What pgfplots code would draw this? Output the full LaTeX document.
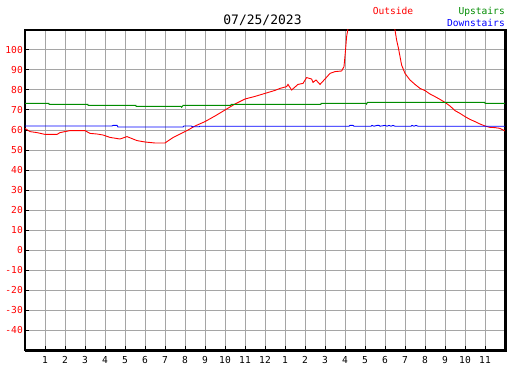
\documentclass[border=0pt]{standalone}
\usepackage{pgfplots}
\pgfplotsset{compat=1.18}
\usepackage{fontspec}
\setmainfont{DejaVu Sans Mono}
\definecolor{gridgray}{RGB}{165,165,165}
\definecolor{upgreen}{RGB}{0,140,0}
\begin{document}
\begin{tikzpicture}[x=1pt,y=1pt]
\useasboundingbox (0,0) rectangle (527,370);
\fill[white] (0,0) rectangle (527,370);
\node[font=\fontsize{13}{13}\selectfont, anchor=base] at (262.5,345) {07/25/2023};
\node[font=\fontsize{9.6}{10}\selectfont, text=red, anchor=base] at (393,355) {Outside};
\node[font=\fontsize{9.6}{10}\selectfont, text=upgreen, anchor=base east, inner sep=0pt] at (505,355) {Upstairs};
\node[font=\fontsize{9.6}{10}\selectfont, text=blue, anchor=base east, inner sep=0pt] at (505,343) {Downstairs};
\begin{axis}[
  at={(25pt,20pt)}, anchor=south west,
  scale only axis, width=480pt, height=320pt,
  xmin=0, xmax=24, ymin=-50, ymax=110,
  xtick={1,2,3,4,5,6,7,8,9,10,11,12,13,14,15,16,17,18,19,20,21,22,23},
  xticklabels={1,2,3,4,5,6,7,8,9,10,11,12,1,2,3,4,5,6,7,8,9,10,11},
  ytick={-40,-30,-20,-10,0,10,20,30,40,50,60,70,80,90,100},
  yticklabels={-40,-30,-20,-10,0,10,20,30,40,50,60,70,80,90,100},
  xtick pos=bottom, ytick pos=left,
  tick align=inside,
  major tick length=4pt,
  tick style={black, line width=1pt},
  grid=major,
  major grid style={gridgray, line width=1pt},
  axis line style={black, line width=1.2pt},
  tick label style={font=\fontsize{9.6}{10}\selectfont},
  yticklabel style={text=red, inner sep=2pt},
  xticklabel style={text=black, inner sep=2pt, yshift=-4pt},
  after end axis/.code={
    \draw[black, line width=2pt] ([xshift=1pt,yshift=0.6pt]current axis.north east) -- ([xshift=1pt,yshift=-1pt]current axis.south east) -- ([yshift=-1pt]current axis.south west);
  },
]
\addplot[red, line width=0.9pt] coordinates {
(0,60.8)(0.25,59.2)(0.6,58.7)(1.0,57.8)(1.6,57.8)(1.75,58.7)(2.25,59.7)(3.0,59.7)(3.25,58.3)(3.6,58)(3.9,57.5)(4.25,56.3)(4.75,55.5)(5.1,56.7)(5.6,54.7)(6.0,54)(6.5,53.5)(7.0,53.5)(7.1,54.2)(7.4,56.2)(7.75,58)(8.1,59.7)(8.5,62)(9.0,64.2)(9.5,67)(10.0,70)(10.5,73)(11.0,75.5)(11.5,76.8)(12.0,78.3)(12.5,79.8)(12.75,80.8)(13.08,81.7)(13.15,82.8)(13.33,80)(13.65,82.8)(13.9,83.3)(14.08,86.2)(14.33,85.5)(14.4,83.8)(14.55,85)(14.75,82.8)(15.0,85.5)(15.25,88.3)(15.5,89.2)(15.83,89.5)(15.95,91.7)(16.02,99.2)(16.08,106.7)(16.17,112)(16.4,125)(17.4,135)(18.35,122)(18.5,110)(18.58,105)(18.67,101)(18.83,92.5)(19.0,88.3)(19.25,85)(19.5,82.8)(19.75,80.8)(20.0,79.7)(20.25,78)(20.5,76.7)(20.75,75.3)(21.0,73.8)(21.25,72)(21.5,69.7)(21.75,68.3)(22.0,66.7)(22.25,65.3)(22.5,64.2)(22.75,63)(23.0,62)(23.25,61.3)(23.5,61.2)(23.75,60.8)(23.9,60)(24,59.5)
};
\addplot[upgreen, line width=0.9pt] coordinates {
(0,73.3)(1.2,73.3)(1.2,72.8)(3.15,72.8)(3.15,72.3)(5.55,72.3)(5.55,71.8)(7.8,71.8)(7.83,71.3)(7.87,71.8)(7.9,72.3)(10.3,72.3)(10.3,72.8)(14.8,72.8)(14.8,73.3)(17.05,73.3)(17.08,72.9)(17.12,73.8)(23,73.8)(23,73.3)(24,73.3)
};
\addplot[blue, line width=0.9pt] coordinates {
(0,62)(4.35,62)(4.4,62.3)(4.6,62.3)(4.65,61.5)(7.9,61.5)(7.95,62)(8.3,62)(8.4,61.6)(8.7,61.6)(8.75,61.9)(16.2,61.9)(16.25,62.3)(16.4,62.3)(16.45,61.9)(17.3,61.9)(17.35,62.3)(17.45,61.9)(17.6,62.3)(17.7,62.3)(17.75,61.9)(18.0,62.3)(18.1,61.9)(18.2,62.3)(18.3,61.9)(18.4,62.3)(18.5,61.9)(19.3,61.9)(19.35,62.3)(19.45,61.9)(19.55,62.3)(19.65,61.9)(24,61.9)
};
\end{axis}
\end{tikzpicture}
\end{document}
